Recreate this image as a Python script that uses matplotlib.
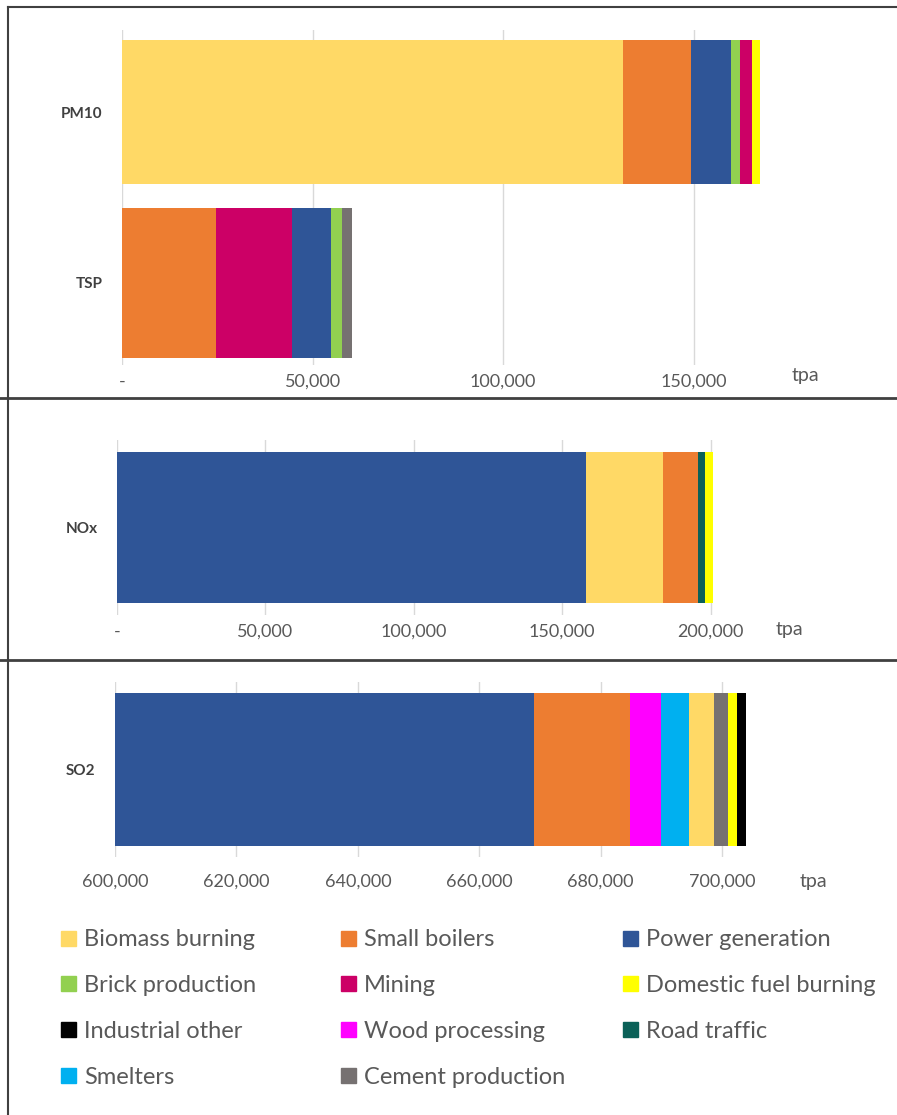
import numpy as np
import matplotlib.pyplot as plt
from matplotlib.lines import Line2D
from matplotlib.patches import Patch

plt.rcParams['font.family'] = ['Lato', 'DejaVu Sans']

# sources and colours
sources = ['Biomass burning', 'Small boilers', 'Power generation',
           'Brick production', 'Mining', 'Domestic fuel burning',
           'Industrial other', 'Wood processing', 'Road traffic',
           'Smelters', 'Cement production']
colors = {'Biomass burning': '#FFD966', 'Small boilers': '#ED7D31',
          'Power generation': '#2F5597', 'Brick production': '#92D050',
          'Mining': '#CC0066', 'Domestic fuel burning': '#FFFF00',
          'Industrial other': '#000000', 'Wood processing': '#FF00FF',
          'Road traffic': '#0B6158', 'Smelters': '#00B0F0',
          'Cement production': '#767171'}

# PM10 / TSP (tpa), stacking order left -> right
pm10_src = ['Biomass burning', 'Small boilers', 'Power generation',
            'Brick production', 'Mining', 'Domestic fuel burning']
pm10_val = [131400, 17900, 10500, 2200, 3200, 2300]
tsp_src = ['Small boilers', 'Mining', 'Power generation',
           'Brick production', 'Cement production']
tsp_val = [24600, 19900, 10400, 2800, 2700]

# NOx
nox_src = ['Power generation', 'Biomass burning', 'Small boilers',
           'Road traffic', 'Domestic fuel burning']
nox_val = [157900, 25900, 11800, 2500, 2600]

# SO2
so2_src = ['Power generation', 'Small boilers', 'Wood processing',
           'Smelters', 'Biomass burning', 'Cement production',
           'Domestic fuel burning', 'Industrial other']
so2_val = [669000, 15800, 5100, 4600, 4100, 2300, 1600, 1500]

W, H = 897, 1115
fig = plt.figure(figsize=(W / 100, H / 100), dpi=100)
txt = '#595959'


def px_axes(x0, y0, x1, y1):
    return fig.add_axes([x0 / W, 1 - y1 / H, (x1 - x0) / W, (y1 - y0) / H])


def stack(ax, y, srcs, vals, h):
    left = 0
    for s, v in zip(srcs, vals):
        ax.barh(y, v, left=left, height=h, color=colors[s], zorder=3)
        left += v


def style(ax, ticks, labels, cats, pad=7):
    ax.set_xticks(ticks)
    ax.set_xticklabels(labels, fontsize=13, color=txt)
    ax.grid(axis='x', color='#D9D9D9', lw=1, zorder=0)
    for sp in ax.spines.values():
        sp.set_visible(False)
    ax.tick_params(axis='x', length=0, pad=pad)
    ax.tick_params(axis='y', length=0, pad=14)
    ax.set_yticks(range(len(cats)))
    ax.set_yticklabels(cats, fontsize=11, fontweight='bold', color='#404040')


# panel 1
ax1 = px_axes(122, 30, 770, 365)
stack(ax1, 1, pm10_src, pm10_val, 0.84)
stack(ax1, 0, tsp_src, tsp_val, 0.88)
ax1.set_xlim(0, 170000)
ax1.set_ylim(-0.48, 1.48)
style(ax1, [0, 50000, 100000, 150000], ['-', '50,000', '100,000', '150,000'], ['TSP', 'PM10'], pad=6)
fig.text(792 / W, 1 - 376 / H, 'tpa', fontsize=14, color=txt, va='center')

# panel 2
ax2 = px_axes(117, 440, 770, 615)
stack(ax2, 0, nox_src, nox_val, 0.86)
ax2.set_xlim(0, 220000)
ax2.set_ylim(-0.5, 0.5)
style(ax2, [0, 50000, 100000, 150000, 200000],
      ['-', '50,000', '100,000', '150,000', '200,000'], ['NOx'], pad=6)
fig.text(776 / W, 1 - 630 / H, 'tpa', fontsize=14, color=txt, va='center')

# panel 3
ax3 = px_axes(115, 682, 795, 857)
stack(ax3, 0, so2_src, so2_val, 0.87)
ax3.set_xlim(600000, 712000)
ax3.set_ylim(-0.5, 0.5)
so2_ticks = [600000, 620000, 640000, 660000, 680000, 700000]
style(ax3, so2_ticks, ['{:,}'.format(t) for t in so2_ticks], ['SO2'], pad=12)
fig.text(800 / W, 1 - 882 / H, 'tpa', fontsize=14, color=txt, va='center')

# legend: three columns, filled row by row
col_x = [52, 332, 614]
for c in range(3):
    items = sources[c::3]
    handles = [Patch(color=colors[s]) for s in items]
    leg = fig.legend(handles, items, loc='upper left',
                     bbox_to_anchor=(col_x[c] / W, 1 - 920 / H),
                     frameon=False, fontsize=17, handlelength=0.6, handleheight=0.6,
                     handletextpad=0.35, labelspacing=1.05, borderaxespad=0)
    for t in leg.get_texts():
        t.set_color(txt)

# frame lines
fig.add_artist(Line2D([8 / W, 8 / W], [0, 1 - 7 / H], color='#404040', lw=1.5))
fig.add_artist(Line2D([8 / W, 1], [1 - 7 / H, 1 - 7 / H], color='#404040', lw=1.5))
for yy in [398, 660]:
    fig.add_artist(Line2D([0, 1], [1 - yy / H, 1 - yy / H], color='#404040', lw=2))

fig.savefig('out.png', dpi=100)
